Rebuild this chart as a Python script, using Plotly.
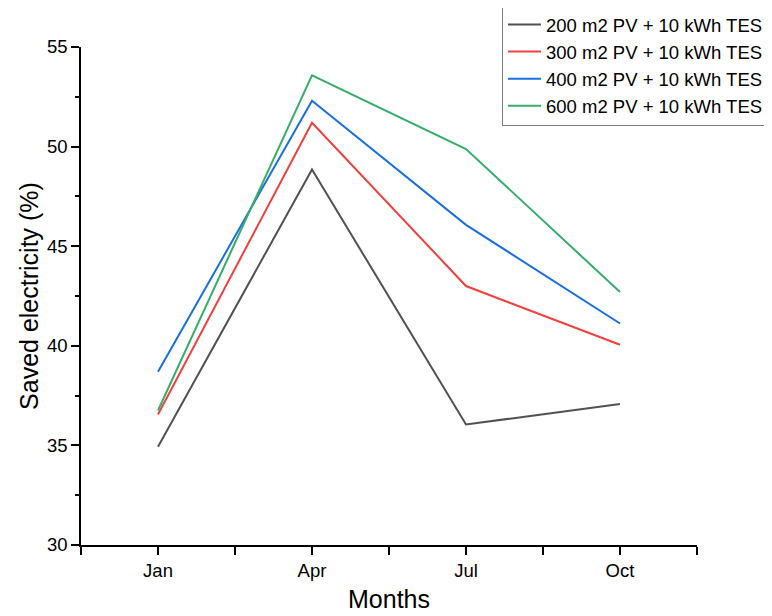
import plotly.graph_objects as go

months = ["Jan", "Apr", "Jul", "Oct"]
series_names = ["200 m2 PV + 10 kWh TES", "300 m2 PV + 10 kWh TES",
                "400 m2 PV + 10 kWh TES", "600 m2 PV + 10 kWh TES"]
s200 = [34.93, 48.85, 36.05, 37.08]
s300 = [36.55, 51.2, 43.0, 40.05]
s400 = [38.7, 52.3, 46.07, 41.12]
s600 = [36.75, 53.58, 49.88, 42.7]
colors = ["#515151", "#F14040", "#1A6FDF", "#37AD6B"]
y_ticks = [30, 35, 40, 45, 50, 55]

x_idx = list(range(len(months)))

fig = go.Figure()
for name, vals, col in zip(series_names, [s200, s300, s400, s600], colors):
    fig.add_trace(go.Scatter(x=x_idx, y=vals, mode="lines", name=name,
                             line=dict(color=col, width=2)))

font_family = "Liberation Sans, Arial, sans-serif"
fig.update_layout(
    width=764, height=608,
    margin=dict(l=73, r=75, t=39, b=71, autoexpand=False),
    paper_bgcolor="white", plot_bgcolor="white",
    font=dict(family=font_family, color="black", size=18.5),
    showlegend=True,
    legend=dict(x=0.6834, y=1.0843, xanchor="left", yanchor="top",
                bordercolor="#7f7f7f", borderwidth=1, bgcolor="white",
                font=dict(size=18.5, family=font_family), tracegroupgap=0,
                itemwidth=33),
    xaxis=dict(range=[-0.5, 3.5], tickvals=x_idx, ticktext=months, automargin=False,
               showgrid=False, zeroline=False, showline=True, linecolor="black",
               linewidth=1.5, ticks="outside", ticklen=8, tickwidth=1.5, tickcolor="black",
               tickfont=dict(size=18.5),
               minor=dict(tickvals=[-0.5, 0.5, 1.5, 2.5, 3.5], ticks="outside",
                          ticklen=8, tickwidth=1.5, tickcolor="black"),
               title=dict(text="Months", font=dict(size=25), standoff=11)),
    yaxis=dict(range=[30, 55], tickvals=y_ticks, automargin=False,
               showgrid=False, zeroline=False, showline=True, linecolor="black",
               linewidth=1.5, ticks="outside", ticklen=8, tickwidth=1.5, tickcolor="black",
               tickfont=dict(size=18.5),
               minor=dict(dtick=2.5, ticks="outside", ticklen=4, tickwidth=1.5,
                          tickcolor="black"),
               title=dict(text="Saved electricity (%)", font=dict(size=25), standoff=1)),
)

fig.write_html("out.html")
